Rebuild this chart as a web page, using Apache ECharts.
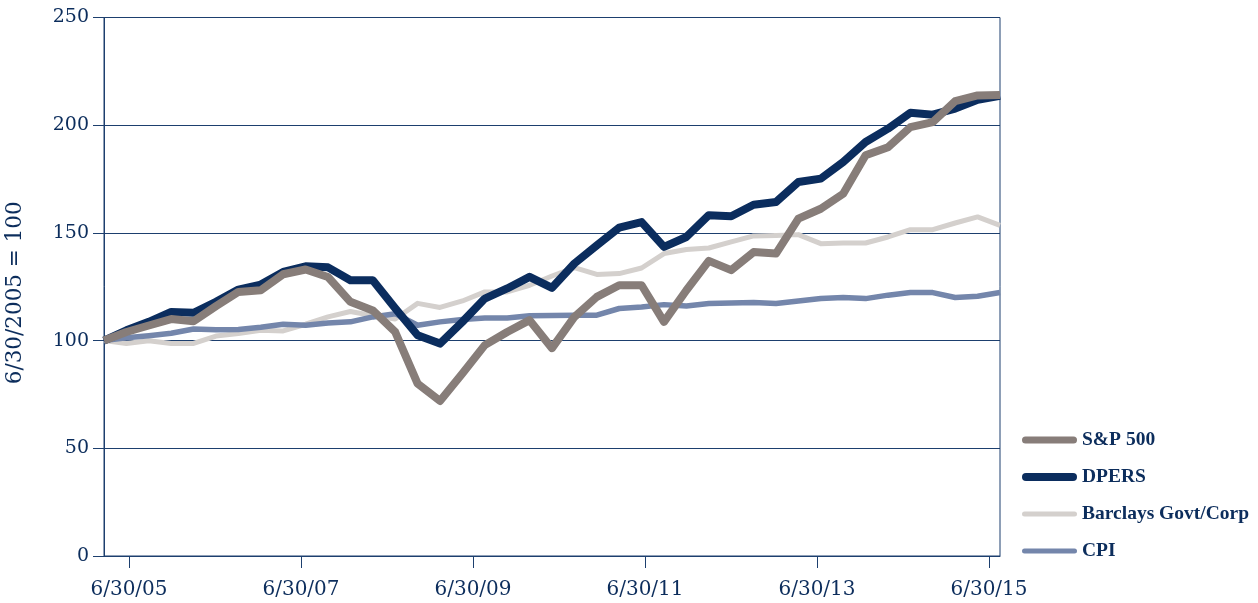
<!DOCTYPE html>
<html>
<head>
<meta charset="utf-8">
<script src="https://cdn.jsdelivr.net/npm/echarts@6/dist/echarts.min.js"></script>
<style>
html,body{margin:0;padding:0;background:#fff;}
#chart{width:1258px;height:603px;}
</style>
</head>
<body>
<div id="chart"></div>
<script>
// Quarterly index values, 6/30/2005 = 100 (41 quarters)
const seriesNames = ['S&P 500', 'DPERS', 'Barclays Govt/Corp', 'CPI'];
const sp500 = [100, 104, 107, 110, 109, 116, 122.6, 123.4, 130.8, 133, 129.5, 118, 114, 104, 80, 72, 84.7, 97.9, 104, 109.5,
  96.5, 111, 120.3, 125.7, 125.7, 108.7, 123.4, 137, 132.7, 141.1, 140.4, 156.6, 161.2, 168.2, 186, 189.8, 199.1, 201.4, 211.2, 213.8, 214];
const dpers = [100, 104.8, 108.7, 113.3, 112.9, 118, 123.7, 126, 131.9, 134.5, 134, 128, 128, 115, 102.5, 98.6, 108.7, 119.5, 124.2, 129.6,
  124.5, 135.8, 144.2, 152.4, 155, 143.5, 148.1, 158.2, 157.7, 163.1, 164.3, 173.6, 175.2, 182.9, 192.2, 198.4, 205.8, 204.9, 207.7, 211.8, 213.6];
const barclays = [100, 98.7, 99.9, 98.7, 98.7, 102.1, 103.3, 104.8, 104.5, 107.6, 111, 113.5, 111.6, 110, 117.3, 115.4, 118.4, 122.6, 122.6, 125.7,
  130, 133.9, 130.7, 131.1, 133.7, 140.4, 142.3, 143, 145.8, 148.6, 148.8, 149.2, 145, 145.3, 145.3, 148.1, 151.5, 151.5, 154.6, 157.4, 153.5];
const cpi = [100, 101.3, 102.3, 103.4, 105.4, 105, 105.2, 106.2, 107.6, 107.1, 108.2, 108.7, 111, 112.5, 107.1, 108.7, 109.8, 110.5, 110.5, 111.5,
  111.6, 111.8, 111.8, 114.9, 115.6, 116.7, 116.1, 117.2, 117.5, 117.7, 117.2, 118.4, 119.5, 120, 119.5, 121.1, 122.3, 122.3, 120, 120.6, 122.3];
const tickLabels = ['6/30/05', '6/30/07', '6/30/09', '6/30/11', '6/30/13', '6/30/15'];
const tickYears = [2005.5, 2007.5, 2009.5, 2011.5, 2013.5, 2015.5];
const yName = '6/30/2005 = 100';

const NAVY = '#0c2d5c';
const AXIS = '#1d3f6e';
const colors = ['#877d79', '#0b2d5e', '#d4d0cd', '#7486ab'];
const widths = [8, 8, 5, 5.5];
const zs = [5, 4, 2, 3];

function pts(arr) { return arr.map((v, i) => [i, v]); }
// legend icon: rounded bar of given thickness inside a 55x20 box
function barIcon(h) {
  const t = 10 - h / 2, b = 10 + h / 2, r = h / 2;
  return 'path://M0,0 M55,20 M' + r + ',' + t + ' L' + (55 - r) + ',' + t +
    ' A' + r + ',' + r + ' 0 0 1 ' + (55 - r) + ',' + b + ' L' + r + ',' + b +
    ' A' + r + ',' + r + ' 0 0 1 ' + r + ',' + t + ' Z';
}
const iconHeights = [7, 8, 5, 5];
const dataSets = [sp500, dpers, barclays, cpi];

const chart = echarts.init(document.getElementById('chart'), null, { renderer: 'canvas' });
chart.setOption({
  animation: false,
  backgroundColor: '#ffffff',
  grid: { left: 104, right: 258, top: 17.5, bottom: 47, show: true, borderColor: AXIS, borderWidth: 1,
    backgroundColor: 'transparent', containLabel: false, outerBoundsMode: 'none' },
  legend: {
    orient: 'vertical',
    left: 1022,
    top: 430,
    padding: 0,
    itemWidth: 55,
    itemHeight: 20,
    itemGap: 17,
    textStyle: { fontFamily: 'Liberation Serif', fontWeight: 'bold', fontSize: 19.5, color: NAVY, lineHeight: 20 },
    data: seriesNames.map((n, i) => ({ name: n, icon: barIcon(iconHeights[i]), itemStyle: { color: colors[i] } }))
  },
  xAxis: [
    { type: 'value', min: 0, max: 40, show: false, gridIndex: 0 },
    {
      type: 'value', gridIndex: 0, position: 'bottom',
      min: tickYears[0] - 25 / 86, max: tickYears[0] + 871 / 86,
      axisLine: { show: true, lineStyle: { color: AXIS, width: 1 } },
      axisTick: { show: true, inside: false, length: 12, customValues: tickYears, lineStyle: { color: AXIS, width: 1 } },
      axisLabel: {
        customValues: tickYears, margin: 24,
        fontFamily: 'DejaVu Serif', fontSize: 20, color: NAVY,
        formatter: function (v) { return tickLabels[Math.round((v - tickYears[0]) / 2)]; }
      },
      splitLine: { show: false }
    }
  ],
  yAxis: {
    type: 'value', min: 0, max: 250, interval: 50,
    name: yName, nameLocation: 'middle', nameGap: 78, nameRotate: 90,
    nameTextStyle: { fontFamily: 'DejaVu Serif', fontSize: 21.5, color: NAVY, padding: [0, 12, 0, 0] },
    axisLine: { show: true, lineStyle: { color: AXIS, width: 1 } },
    axisTick: { show: true, inside: false, length: 11, lineStyle: { color: AXIS, width: 1 } },
    axisLabel: { margin: 15, fontFamily: 'DejaVu Serif', fontSize: 19, color: NAVY },
    splitLine: { show: true, lineStyle: { color: AXIS, width: 1 } }
  },
  series: seriesNames.map((n, i) => ({
    name: n, type: 'line', xAxisIndex: 0, data: pts(dataSets[i]), symbol: 'none', z: zs[i],
    lineStyle: { color: colors[i], width: widths[i], join: 'round' }, itemStyle: { color: colors[i] }
  }))
});
</script>
</body>
</html>
